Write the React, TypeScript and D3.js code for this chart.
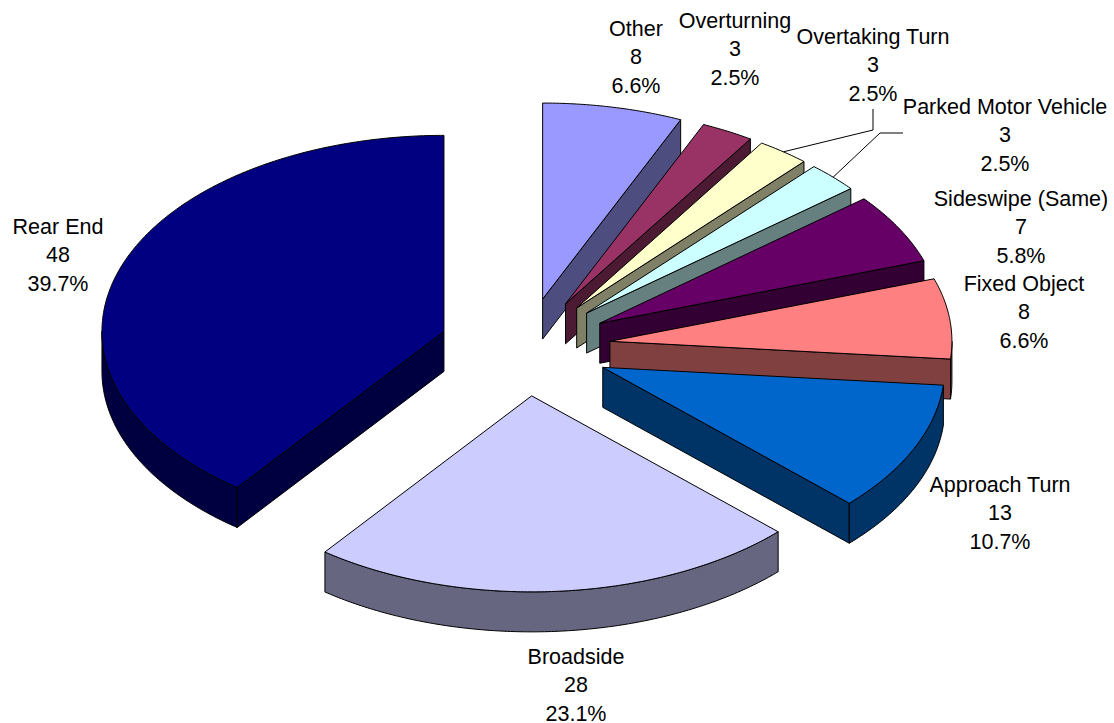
import React from "react";
import * as d3 from "d3";

// Collision types and counts, clockwise from twelve o'clock
const categories = [
  "Other",
  "Overturning",
  "Overtaking Turn",
  "Parked Motor Vehicle",
  "Sideswipe (Same)",
  "Fixed Object",
  "Approach Turn",
  "Broadside",
  "Rear End",
];
const counts = [8, 3, 3, 3, 7, 8, 13, 28, 48];
const percentLabels = ["6.6%", "2.5%", "2.5%", "2.5%", "5.8%", "6.6%", "10.7%", "23.1%", "39.7%"];
const topColors = [
  "#9999FF",
  "#993366",
  "#FFFFCC",
  "#CCFFFF",
  "#660066",
  "#FF8080",
  "#0066CC",
  "#CCCCFF",
  "#000080",
];

// Label centres: x of the text block, y of the middle of its first line
const labelX = [636, 735, 873, 1005, 1021, 1024, 1000, 576, 58];
const labelY = [28.5, 20.5, 36.5, 106.5, 198.5, 283.5, 484.5, 656.5, 226.5];

const WIDTH = 1114;
const HEIGHT = 723;
const RX = 342;
const RY = 196;
const DEPTH = 40;
const CX = 525;
const CY = 347;
const EXPLODE = 0.25;
const LINE_GAP = 28.3;
const HALF_PI = Math.PI / 2;
const TAU = Math.PI * 2;

type Pt = [number, number];

const pieLayout = d3
  .pie<number>()
  .sort(null)
  .startAngle(0)
  .endAngle(TAU);

const closed = d3
  .line<Pt>()
  .x((d) => d[0])
  .y((d) => d[1])
  .curve(d3.curveLinearClosed);

const onEllipse = (o: Pt, a: number, r = 1): Pt => [
  o[0] + Math.sin(a) * RX * r,
  o[1] - Math.cos(a) * RY * r,
];

const sampleArc = (o: Pt, a0: number, a1: number): Pt[] => {
  const n = Math.max(2, Math.ceil(Math.abs(a1 - a0) / 0.01));
  const t = d3.scaleLinear().domain([0, n]).range([a0, a1]);
  return d3.range(n + 1).map((i) => onEllipse(o, t(i)));
};

const lowered = (pts: Pt[]): Pt[] => pts.map(([x, y]) => [x, y + DEPTH] as Pt);

const halfTone = (c: string) => {
  const v = d3.rgb(c);
  return d3.rgb(v.r / 2, v.g / 2, v.b / 2).formatHex();
};

const arcs = pieLayout(counts);
const slices = arcs.map((arc, i) => {
  const mid = (arc.startAngle + arc.endAngle) / 2;
  const origin = onEllipse([CX, CY], mid, EXPLODE);
  return { i, mid, origin, a0: arc.startAngle, a1: arc.endAngle };
});

function Slice({ s }: { s: (typeof slices)[number] }) {
  const { i, origin, a0, a1 } = s;
  const side = halfTone(topColors[i]);
  const faces: Pt[][] = [];

  // The clockwise cut face shows on the right half, the other one on the left
  if (a1 < Math.PI) {
    const e = onEllipse(origin, a1);
    faces.push([origin, e, ...lowered([e, origin])]);
  }
  if (a0 > Math.PI) {
    const e = onEllipse(origin, a0);
    faces.push([origin, e, ...lowered([e, origin])]);
  }

  // Outer rim, only where it turns toward the viewer
  const r0 = Math.max(a0, HALF_PI);
  const r1 = Math.min(a1, 3 * HALF_PI);
  if (r1 > r0) {
    const rim = sampleArc(origin, r0, r1);
    faces.push([...rim, ...lowered(rim).reverse()]);
  }

  const top: Pt[] = [origin, ...sampleArc(origin, a0, a1)];
  const edge = { stroke: "#000", strokeWidth: 1, strokeLinejoin: "round" as const };

  return (
    <g>
      {faces.map((f, k) => (
        <path key={k} d={closed(f) ?? ""} fill={side} {...edge} />
      ))}
      <path d={closed(top) ?? ""} fill={topColors[i]} {...edge} />
    </g>
  );
}

// Leader lines for the two narrow slices whose labels sit further out
const leaderKnees: Record<number, Pt[]> = {
  2: [
    [873, 109],
    [873, 130],
  ],
  3: [
    [903, 133],
    [880, 133],
  ],
};

export default function App() {
  const open = d3.line<Pt>();
  return (
    <svg
      width={WIDTH}
      height={HEIGHT}
      viewBox={`0 0 ${WIDTH} ${HEIGHT}`}
      style={{ position: "absolute", left: 0, top: 0, background: "#fff" }}
    >
      {slices.map((s) => (
        <Slice key={s.i} s={s} />
      ))}
      {Object.entries(leaderKnees).map(([k, knees]) => {
        const s = slices[+k];
        return (
          <path
            key={k}
            d={open([...knees, onEllipse(s.origin, s.mid)]) ?? ""}
            fill="none"
            stroke="#000"
            strokeWidth={1}
          />
        );
      })}
      {categories.map((name, i) => (
        <text
          key={name}
          textAnchor="middle"
          fontFamily="'Liberation Sans', Arial, sans-serif"
          fontSize={21.5}
          fill="#000"
        >
          {[name, String(counts[i]), percentLabels[i]].map((line, j) => (
            <tspan key={j} x={labelX[i]} y={labelY[i] + j * LINE_GAP} dy="0.35em">
              {line}
            </tspan>
          ))}
        </text>
      ))}
    </svg>
  );
}
